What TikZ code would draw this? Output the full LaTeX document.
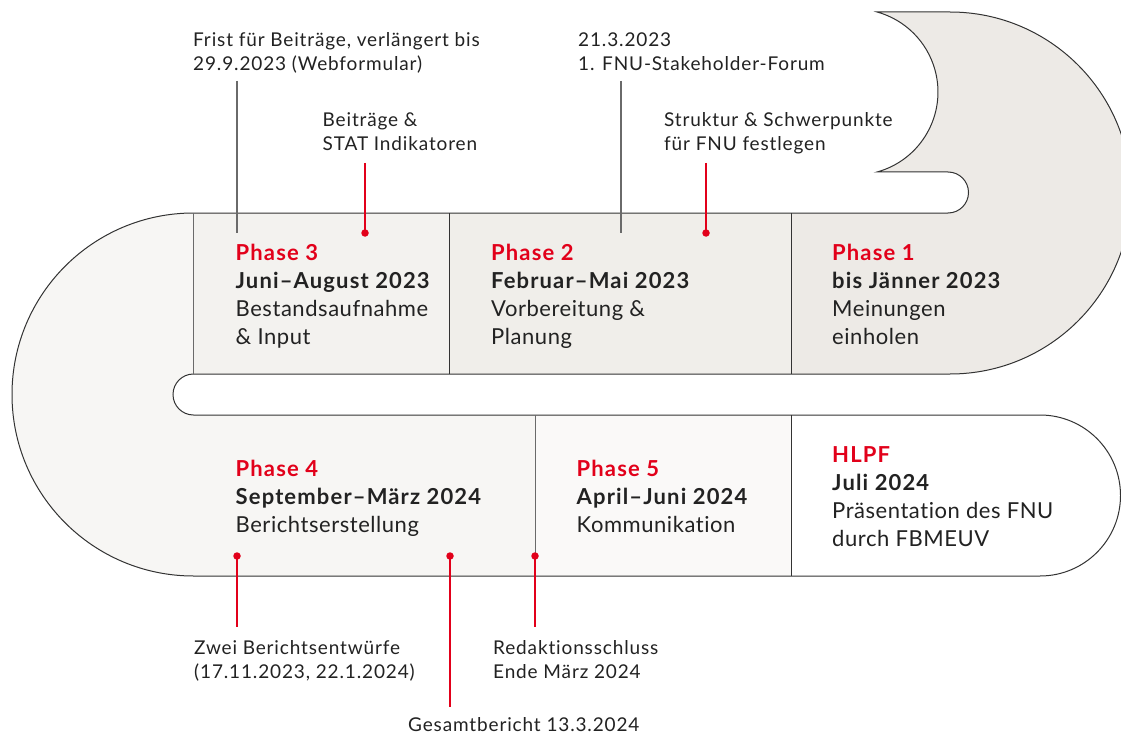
\documentclass[tikz,border=0pt]{standalone}
\usepackage{fontspec}
\setmainfont{Lato}[LetterSpace=2.5, Ligatures={NoCommon}, BoldFeatures={LetterSpace=5.2}]
\newfontfamily\annfont{Lato}[LetterSpace=4.5, Ligatures={NoCommon}]
\definecolor{fnured}{HTML}{E2001A}
\definecolor{ink}{HTML}{222222}
\definecolor{edge}{HTML}{333333}
\definecolor{softedge}{HTML}{6A6A6A}
\definecolor{cOne}{HTML}{EDEAE6}
\definecolor{cTwo}{HTML}{F0EEEA}
\definecolor{cThree}{HTML}{F3F2EF}
\definecolor{cFour}{HTML}{F7F6F4}
\definecolor{cFive}{HTML}{FAF9F8}
\begin{document}
\begin{tikzpicture}[x=1pt,y=1pt,
  ann/.style={anchor=base west, align=left, font=\annfont\fontsize{19}{24}\selectfont, text=ink, inner sep=0pt},
  phasetxt/.style={anchor=base west, align=left, font=\fontsize{22}{28}\selectfont, text=ink, inner sep=0pt},
  outline/.style={draw=edge, line width=1pt},
  divider/.style={draw=edge, line width=1pt},
  softdivider/.style={draw=softedge, line width=1pt},
  grayline/.style={draw=softedge, line width=1.3pt},
  redline/.style={draw=fnured, line width=2pt},
  dot/.style={circle, fill=fnured, minimum size=7.5pt, inner sep=0pt}
]
\clip (0,0) rectangle (1121,-738);
\fill[white] (0,0) rectangle (1121,-738);
% fills
\begin{scope}
\clip (193.5,-213) -- (948,-213) arc[start angle=-90,end angle=90,radius=20.5] -- (877,-172) arc[start angle=-74.6,end angle=74.6,radius=83] -- (950,-12) arc[start angle=90,end angle=-90,radius=181] -- (193.5,-374) arc[start angle=90,end angle=270,radius=20.5] -- (1040,-415) arc[start angle=90,end angle=-90,radius=80.5] -- (193.5,-576) arc[start angle=-90,end angle=-270,radius=181.5] -- cycle;
\fill[cFour] (0,0) rectangle (193.5,-738);
\fill[cFour] (193.5,-394) rectangle (535,-738);
\fill[cThree] (193.5,0) rectangle (449,-394);
\fill[cTwo] (449,0) rectangle (791,-394);
\fill[cOne] (791,0) rectangle (1121,-394);
\fill[cFive] (535,-394) rectangle (791,-738);
\fill[white] (791,-394) rectangle (1121,-738);
\end{scope}
% outline
\draw[outline] (193.5,-213) -- (948,-213) arc[start angle=-90,end angle=90,radius=20.5] -- (877,-172) arc[start angle=-74.6,end angle=74.6,radius=83] -- (950,-12) arc[start angle=90,end angle=-90,radius=181] -- (193.5,-374) arc[start angle=90,end angle=270,radius=20.5] -- (1040,-415) arc[start angle=90,end angle=-90,radius=80.5] -- (193.5,-576) arc[start angle=-90,end angle=-270,radius=181.5] -- cycle;
% dividers
\draw[softdivider] (193.5,-213) -- (193.5,-374);
\draw[divider] (449,-213) -- (449,-374);
\draw[divider] (791,-213) -- (791,-374);
\draw[softdivider] (535,-415) -- (535,-576);
\draw[divider] (791,-415) -- (791,-576);
% phase texts (anchor = baseline of last line)
\node[phasetxt] (p3) at (235.5,-344.5) {\textcolor{fnured}{\textbf{Phase 3}}\\\textbf{Juni–August 2023}\\Bestandsaufnahme\\\& Input};
\node[phasetxt] (p2) at (491,-344.5) {\textcolor{fnured}{\textbf{Phase 2}}\\\textbf{Februar–Mai 2023}\\Vorbereitung \&\\Planung};
\node[phasetxt] (p1) at (832,-344) {\textcolor{fnured}{\textbf{Phase 1}}\\\textbf{bis Jänner 2023}\\Meinungen\\einholen};
\node[phasetxt] (p4) at (235.5,-532.5) {\textcolor{fnured}{\textbf{Phase 4}}\\\textbf{September–März 2024}\\Berichtserstellung};
\node[phasetxt] (p5) at (576.5,-532.5) {\textcolor{fnured}{\textbf{Phase 5}}\\\textbf{April–Juni 2024}\\Kommunikation};
\node[phasetxt] (hl) at (832,-546.5) {\textcolor{fnured}{\textbf{HLPF}}\\\textbf{Juli 2024}\\Präsentation des FNU\\durch FBMEUV};
% annotations (anchor = baseline of last line)
\node[ann] (a1) at (193,-71) {Frist für Beiträge, verlängert bis\\29.9.2023 (Webformular)};
\node[ann] (a2) at (322.5,-151) {Beiträge \&\\STAT Indikatoren};
\node[ann] (a3) at (578,-70.5) {21.3.2023\\1. FNU-Stakeholder-Forum};
\node[ann] (a4) at (664,-151) {Struktur \& Schwerpunkte\\für FNU festlegen};
\node[ann] (a5) at (194,-678) {Zwei Berichtsentwürfe\\(17.11.2023, 22.1.2024)};
\node[ann] (a6) at (493,-678) {Redaktionsschluss\\Ende März 2024};
\node[ann] (a7) at (408,-731.5) {Gesamtbericht 13.3.2024};
% connector ends
\coordinate (t1) at (237,-81);
\coordinate (e1) at (237,-233);
\coordinate (t3) at (621,-81);
\coordinate (e3) at (621,-233);
\coordinate (t2) at (365,-163);
\coordinate (t4) at (706,-163);
\coordinate (t5) at (237,-627);
\coordinate (t7) at (450,-707);
\coordinate (t6) at (535,-627);
\node[dot] (d2) at (365,-233) {};
\node[dot] (d4) at (706,-233) {};
\node[dot] (d5) at (237,-556) {};
\node[dot] (d7) at (450,-556) {};
\node[dot] (d6) at (535,-556) {};
\draw[grayline] (t1) -- (e1);
\draw[grayline] (t3) -- (e3);
\draw[redline] (t2) -- (d2.center);
\draw[redline] (t4) -- (d4.center);
\draw[redline] (d5.center) -- (t5);
\draw[redline] (d7.center) -- (t7);
\draw[redline] (d6.center) -- (t6);
\end{tikzpicture}
\end{document}
